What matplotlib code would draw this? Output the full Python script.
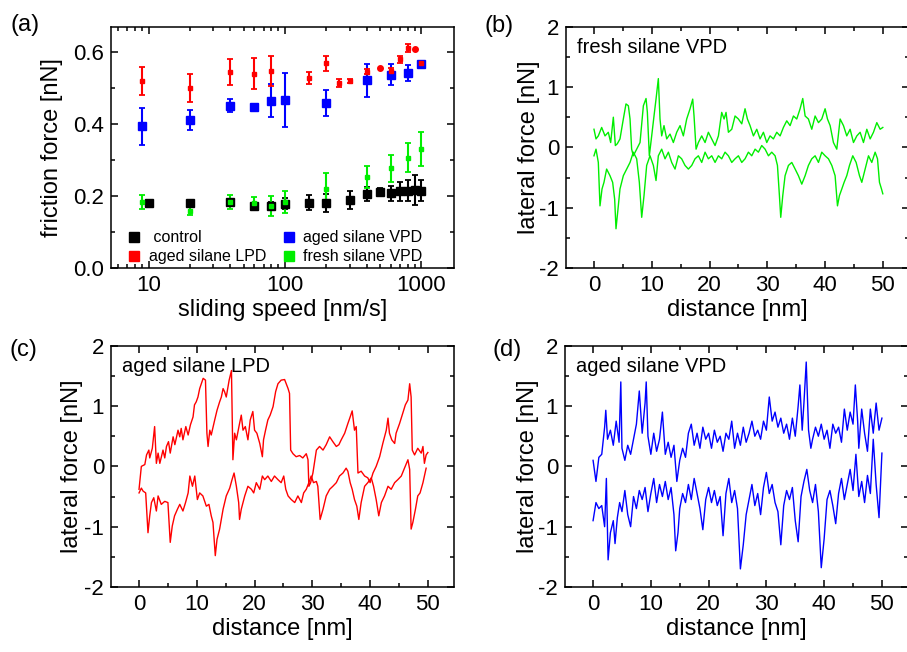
import numpy as np
import matplotlib
matplotlib.use('Agg')
import matplotlib.pyplot as plt
from matplotlib.lines import Line2D
from matplotlib.ticker import MultipleLocator, LogLocator, NullFormatter

# ---- panel (a): friction force vs sliding speed ----
speed_control = [10, 20, 40, 60, 80, 100, 150, 200, 300, 400, 500, 600, 700, 800, 900, 1000]
force_control = [0.180, 0.181, 0.182, 0.173, 0.173, 0.179, 0.181, 0.181, 0.189, 0.205, 0.211, 0.207, 0.213, 0.215, 0.216, 0.215]
err_control = [0.0, 0.0, 0.008, 0.008, 0.010, 0.015, 0.021, 0.025, 0.026, 0.020, 0.010, 0.022, 0.026, 0.029, 0.042, 0.028]

speed_fresh = [9, 20, 40, 60, 80, 100, 200, 400, 600, 800, 1000]
force_fresh = [0.184, 0.159, 0.184, 0.180, 0.173, 0.184, 0.220, 0.252, 0.277, 0.306, 0.331]
err_fresh = [0.020, 0.012, 0.020, 0.016, 0.028, 0.030, 0.045, 0.031, 0.037, 0.040, 0.047]

speed_vpd = [9, 20, 40, 60, 80, 100, 200, 400, 600, 800, 1000]
force_vpd = [0.393, 0.412, 0.450, 0.446, 0.465, 0.467, 0.458, 0.521, 0.537, 0.541, 0.566]
err_vpd = [0.051, 0.028, 0.018, 0.006, 0.046, 0.075, 0.035, 0.045, 0.029, 0.022, 0.007]

speed_lpd = [9, 20, 40, 60, 80, 150, 200, 250, 300, 400, 600, 700, 800, 1000]
force_lpd = [0.519, 0.500, 0.545, 0.540, 0.547, 0.528, 0.569, 0.515, 0.520, 0.545, 0.547, 0.579, 0.610, 0.569]
err_lpd = [0.038, 0.038, 0.036, 0.042, 0.042, 0.017, 0.021, 0.011, 0.006, 0.007, 0.007, 0.010, 0.011, 0.005]
speed_lpd_single = [500, 900]
force_lpd_single = [0.555, 0.608]

legend_labels = [' control', 'aged silane LPD', 'aged silane VPD', 'fresh silane VPD']

# ---- panel (b): fresh silane VPD friction loop (distance nm, lateral force nN) ----
fresh_fwd = [(0, 0.30), (0.35, 0.14), (0.75, 0.19), (1.33, 0.33), (1.91, 0.19), (2.48, 0.25), (2.89, 0.08),
             (3.35, 0.50), (3.7, 0.03), (4.04, 0.06), (4.5, 0.14), (5.08, 0.47), (5.54, 0.72), (5.95, 0.69),
             (6.24, 0.47), (6.52, -0.03), (6.81, -0.14), (7.39, -0.03), (7.97, 0.08), (8.55, 0.69), (9.01, 0.81),
             (9.24, 0.58), (9.58, -0.14), (9.99, 0.19), (10.39, 0.52), (10.74, 0.80), (11.14, 1.14), (11.43, 0.47),
             (11.72, 0.19), (12.12, 0.36), (12.59, 0.14), (13.16, 0.22), (13.74, 0.08), (14.32, 0.25), (14.9, 0.36),
             (15.47, 0.19), (16.05, 0.47), (16.63, 0.64), (17.09, 0.80), (17.32, 0.52), (17.67, -0.03), (18.07, 0.08),
             (18.65, 0.19), (19.23, 0.08), (19.8, 0.25), (20.38, 0.14), (20.96, 0.03), (21.54, 0.19), (22.11, 0.58),
             (22.52, 0.47), (22.86, 0.58), (23.27, 0.25), (23.85, 0.30), (24.42, 0.52), (25.0, 0.47), (25.58, 0.39),
             (26.15, 0.64), (26.56, 0.47), (27.02, 0.36), (27.6, 0.19), (28.18, 0.30), (28.75, 0.14), (29.33, 0.25),
             (29.91, 0.08), (30.48, 0.19), (31.06, 0.14), (31.64, 0.25), (32.22, 0.19), (32.79, 0.33), (33.37, 0.44),
             (33.95, 0.36), (34.53, 0.52), (35.1, 0.47), (35.68, 0.64), (36.14, 0.81), (36.55, 0.52), (37.12, 0.47),
             (37.7, 0.30), (38.28, 0.52), (38.86, 0.41), (39.43, 0.47), (40.01, 0.64), (40.42, 0.47), (40.88, 0.36),
             (41.45, 0.08), (42.03, -0.03), (42.61, 0.47), (43.19, 0.36), (43.76, 0.19), (44.34, 0.30), (44.92, 0.08),
             (45.5, 0.19), (46.07, 0.25), (46.65, 0.08), (47.23, 0.30), (47.81, 0.14), (48.38, 0.25), (48.96, 0.41),
             (49.54, 0.30), (50.0, 0.33)]
fresh_bwd = [(0, -0.14), (0.35, -0.03), (0.75, -0.25), (1.04, -0.97), (1.39, -0.69), (1.73, -0.58), (2.19, -0.36),
             (2.77, -0.47), (3.23, -0.58), (3.58, -0.86), (3.81, -1.35), (4.16, -1.02), (4.5, -0.69), (5.08, -0.47),
             (5.66, -0.36), (6.24, -0.25), (6.81, -0.08), (7.39, -0.19), (7.85, -0.58), (8.26, -1.16), (8.66, -0.80),
             (9.12, -0.30), (9.7, -0.14), (10.28, -0.30), (10.74, -0.55), (11.14, -0.14), (11.72, -0.03), (12.3, -0.19),
             (12.88, -0.08), (13.45, -0.25), (14.03, -0.36), (14.61, -0.14), (15.18, -0.19), (15.76, -0.30),
             (16.34, -0.36), (16.92, -0.30), (17.49, -0.19), (18.07, -0.14), (18.65, -0.25), (19.23, -0.08),
             (19.8, -0.19), (20.38, -0.14), (20.96, -0.25), (21.54, -0.14), (22.11, -0.19), (22.69, -0.08),
             (23.27, -0.14), (23.85, -0.25), (24.42, -0.19), (25.0, -0.14), (25.58, -0.25), (26.15, -0.19),
             (26.73, -0.08), (27.31, -0.14), (27.89, -0.03), (28.46, -0.08), (29.04, 0.03), (29.62, -0.03),
             (30.2, -0.14), (30.77, -0.08), (31.35, -0.14), (31.76, -0.30), (32.1, -0.80), (32.33, -1.16),
             (32.68, -0.80), (33.08, -0.47), (33.66, -0.30), (34.24, -0.25), (34.82, -0.36), (35.39, -0.47),
             (35.97, -0.61), (36.55, -0.47), (37.12, -0.30), (37.7, -0.19), (38.28, -0.14), (38.86, -0.25),
             (39.43, -0.08), (40.01, -0.14), (40.59, -0.19), (41.17, -0.30), (41.74, -0.47), (42.15, -0.97),
             (42.49, -0.80), (42.9, -0.69), (43.3, -0.58), (43.76, -0.47), (44.23, -0.30), (44.8, -0.14),
             (45.38, -0.25), (45.96, -0.47), (46.36, -0.58), (46.94, -0.36), (47.52, -0.14), (48.09, -0.25),
             (48.67, -0.08), (49.08, -0.19), (49.42, -0.58), (49.77, -0.69), (50.0, -0.77)]

# ---- panel (c): aged silane LPD ----
lpd_fwd = [(0, -0.38), (0.4, 0.0), (1.0, 0.03), (1.3, 0.19), (1.7, 0.27), (1.85, 0.14), (2.3, 0.30), (2.7, 0.66),
           (3.0, 0.05), (3.3, 0.22), (3.6, 0.05), (4.15, 0.27), (4.45, 0.14), (4.75, 0.33), (5.1, 0.41), (5.4, 0.22),
           (5.9, 0.49), (6.2, 0.36), (6.75, 0.60), (7.05, 0.49), (7.3, 0.63), (7.6, 0.44), (8.1, 0.66), (8.5, 0.52),
           (8.9, 0.69), (9.35, 0.82), (9.6, 1.02), (9.9, 1.07), (10.2, 1.15), (10.5, 1.29), (11.1, 1.46), (11.5, 1.43),
           (11.75, 0.55), (11.95, 0.33), (12.25, 0.60), (12.5, 0.52), (13.1, 0.77), (13.5, 0.93), (13.95, 1.07),
           (14.25, 1.15), (14.55, 1.29), (14.8, 1.24), (15.1, 1.15), (15.6, 1.43), (16.0, 1.59), (16.25, 0.11),
           (16.55, 0.55), (16.85, 0.44), (17.4, 0.71), (17.7, 0.85), (18.0, 0.60), (18.4, 0.66), (18.85, 0.44),
           (19.25, 0.77), (19.7, 0.91), (20.0, 0.60), (20.4, 0.55), (20.9, 0.38), (21.35, 0.16), (21.55, 0.44),
           (21.9, 0.60), (22.3, 0.77), (22.7, 0.85), (23.2, 0.99), (23.65, 1.24), (24.05, 1.37), (24.6, 1.43),
           (25.2, 1.44), (25.8, 1.29), (26.05, 1.21), (26.25, 0.27), (26.65, 0.21), (27.2, 0.16), (27.8, 0.18),
           (28.35, 0.14), (28.95, 0.21), (29.25, 0.11), (29.4, -0.33), (29.7, -0.27), (30.1, -0.11), (30.7, 0.27),
           (31.25, 0.33), (31.85, 0.27), (32.4, 0.36), (33.0, 0.49), (33.55, 0.41), (34.15, 0.33), (34.6, 0.36),
           (35.0, 0.44), (35.6, 0.55), (36.15, 0.71), (36.55, 0.82), (36.9, 0.92), (37.3, 0.60), (37.6, 0.66),
           (37.9, -0.11), (38.45, -0.08), (39.05, -0.16), (39.6, -0.19), (40.0, -0.27), (40.5, -0.11), (41.05, 0.0),
           (41.65, 0.16), (42.2, 0.38), (42.8, 0.60), (43.1, 0.80), (43.35, 0.55), (43.75, 0.44), (44.25, 0.38),
           (44.5, 0.55), (45.1, 0.71), (45.65, 0.88), (46.1, 1.02), (46.55, 1.10), (46.85, 1.37), (47.1, 1.15),
           (47.3, 0.27), (47.7, 0.19), (48.25, 0.30), (48.85, 0.22), (49.15, 0.33), (49.4, 0.05), (49.7, 0.19),
           (50.0, 0.23)]
lpd_bwd = [(0, -0.44), (0.4, -0.36), (0.7, -0.41), (1.15, -0.44), (1.55, -1.10), (1.85, -0.82), (2.15, -0.60),
           (2.55, -0.52), (3.0, -0.74), (3.3, -0.49), (3.85, -0.63), (4.45, -0.58), (5.0, -0.60), (5.4, -1.26),
           (5.75, -0.99), (6.15, -0.82), (6.65, -0.71), (7.05, -0.63), (7.6, -0.74), (8.05, -0.60), (8.5, -0.44),
           (8.8, -0.16), (9.25, -0.33), (9.65, -0.16), (10.1, -0.55), (10.5, -0.44), (11.05, -0.49), (11.65, -0.66),
           (12.1, -0.63), (12.5, -0.82), (12.8, -0.93), (13.2, -1.48), (13.5, -1.21), (13.95, -1.04), (14.55, -0.71),
           (15.1, -0.49), (15.7, -0.36), (16.1, -0.22), (16.45, -0.11), (16.85, -0.33), (17.25, -0.60),
           (17.4, -0.88), (17.7, -0.71), (18.3, -0.49), (18.85, -0.33), (19.45, -0.38), (19.85, -0.44),
           (20.3, -0.27), (20.9, -0.38), (21.35, -0.16), (21.75, -0.22), (22.3, -0.16), (22.9, -0.25), (23.45, -0.16),
           (24.05, -0.22), (24.6, -0.27), (25.05, -0.16), (25.4, -0.38), (25.8, -0.49), (26.35, -0.55),
           (26.95, -0.60), (27.5, -0.49), (28.1, -0.60), (28.5, -0.44), (28.95, -0.38), (29.4, -0.27), (29.8, -0.16),
           (30.2, -0.27), (30.7, -0.25), (30.95, -0.33), (31.35, -0.88), (31.85, -0.71), (32.4, -0.49),
           (33.0, -0.38), (33.55, -0.33), (34.15, -0.27), (34.7, -0.16), (35.3, -0.11), (35.85, -0.03),
           (36.15, -0.08), (36.55, -0.27), (36.9, -0.38), (37.3, -0.55), (37.7, -0.66), (38.05, -0.88),
           (38.45, -0.60), (39.05, -0.33), (39.6, -0.27), (40.2, -0.19), (40.6, -0.33), (41.05, -0.55),
           (41.5, -0.82), (41.95, -0.60), (42.5, -0.49), (43.1, -0.33), (43.65, -0.38), (44.25, -0.27),
           (44.8, -0.22), (45.4, -0.16), (45.95, -0.03), (46.55, 0.11), (46.85, -0.05), (47.1, -1.04),
           (47.4, -0.93), (47.85, -0.71), (48.25, -0.49), (48.65, -0.44), (49.15, -0.27), (49.4, -0.16),
           (49.7, -0.03)]

# ---- panel (d): aged silane VPD ----
vpd_fwd = [(0, 0.10), (0.5, -0.25), (1, 0.15), (1.5, 0.20), (2, 0.65), (2.2, 0.93), (2.5, 0.45), (3, 0.60),
           (3.5, 0.35), (4, 0.75), (4.5, 0.40), (4.8, 1.40), (5, 0.30), (5.5, 0.10), (6, 0.35), (6.5, 0.20),
           (7, 0.45), (7.5, 0.70), (8, 1.25), (8.5, 0.55), (9, 1.05), (9.2, 1.40), (9.5, 0.50), (10, 0.20),
           (10.5, 0.55), (11, 0.25), (11.5, 0.45), (12, 0.90), (12.5, 0.20), (13, 0.40), (13.5, 0.15), (14, 0.35),
           (14.5, -0.25), (15, 0.10), (15.5, 0.30), (16, 0.15), (16.5, 0.55), (17, 0.70), (17.5, 0.35), (18, 0.55),
           (18.5, 0.30), (19, 0.65), (19.5, 0.45), (20, 0.55), (20.5, 0.30), (21, 0.60), (21.5, 0.40), (22, 0.50),
           (22.5, 0.25), (23, 0.55), (23.5, 0.45), (24, 0.75), (24.5, 0.30), (25, 0.55), (25.5, 0.35), (26, 0.65),
           (26.5, 0.40), (27, 0.55), (27.5, 0.75), (28, 0.50), (28.5, 0.60), (29, 0.45), (29.5, 0.75), (30, 0.60),
           (30.5, 1.15), (31, 0.75), (31.5, 0.90), (32, 0.65), (32.5, 0.80), (33, 0.55), (33.5, 0.70), (34, 0.45),
           (34.5, 0.80), (35, 0.50), (35.5, 1.00), (35.8, 1.35), (36.2, 0.60), (36.5, 1.05), (36.9, 1.73),
           (37.3, 0.60), (37.7, 0.30), (38, 0.45), (38.5, 0.65), (39, 0.50), (39.5, 0.70), (40, 0.45), (40.5, 0.60),
           (41, 0.30), (41.5, 0.70), (42, 0.55), (42.5, 0.65), (43, 0.40), (43.5, 0.95), (44, 0.60), (44.5, 0.90),
           (45, 0.70), (45.4, 1.35), (45.8, 0.75), (46, 0.30), (46.5, 0.95), (47, 0.55), (47.5, 0.25), (48, 0.95),
           (48.5, 0.55), (49, 1.05), (49.5, 0.60), (50, 0.80)]
vpd_bwd = [(0, -0.90), (0.5, -0.60), (1.0, -0.70), (1.5, -0.65), (2.0, -1.00), (2.3, -0.20), (2.6, -1.55),
           (3.0, -1.10), (3.5, -0.90), (3.8, -1.28), (4.2, -0.85), (4.6, -0.60), (5.0, -0.75), (5.5, -0.40),
           (6.0, -0.80), (6.5, -1.00), (7.0, -0.50), (7.5, -0.70), (8.0, -0.40), (8.5, -0.55), (9.0, -0.35),
           (9.5, -0.75), (10.0, -0.45), (10.5, -0.20), (11.0, -0.60), (11.5, -0.30), (12.0, -0.50), (12.5, -0.25),
           (13.0, -0.55), (13.5, -0.35), (14.0, -0.80), (14.3, -1.40), (14.7, -1.10), (15.0, -0.70), (15.5, -0.45),
           (16.0, -0.60), (16.5, -0.30), (17.0, -0.55), (17.5, -0.20), (18.0, -0.45), (18.5, -0.70), (19.0, -1.05),
           (19.5, -0.55), (20.0, -0.35), (20.5, -0.60), (21.0, -0.40), (21.5, -0.65), (22.0, -0.50), (22.5, -1.15),
           (23.0, -0.45), (23.5, -0.20), (24.0, -0.60), (24.5, -0.40), (25.0, -0.70), (25.5, -1.70), (26.0, -1.30),
           (26.5, -0.80), (27.0, -0.55), (27.5, -0.30), (28.0, -0.65), (28.5, -0.45), (29.0, -0.80), (29.5, -0.35),
           (30.0, -0.10), (30.5, -0.45), (31.0, -0.30), (31.5, -0.60), (32.0, -0.75), (32.5, -1.30), (33.0, -0.65),
           (33.5, -0.40), (34.0, -0.55), (34.5, -0.35), (35.0, -0.90), (35.5, -1.25), (36.0, -0.50), (36.5, -0.25),
           (37.0, -0.05), (37.5, -0.40), (38.0, -0.60), (38.5, -0.30), (39.0, -0.75), (39.5, -1.68), (40.0, -1.20),
           (40.5, -0.55), (41.0, -0.40), (41.5, -0.65), (42.0, -0.95), (42.5, -0.45), (43.0, -0.20), (43.5, -0.55),
           (44.0, -0.30), (44.5, -0.05), (45.0, -0.40), (45.5, 0.20), (46.0, -0.50), (46.5, -0.25), (47.0, -0.60),
           (47.5, -0.15), (48.0, -0.45), (48.5, 0.45), (49.0, -0.30), (49.5, -0.85), (50.0, 0.22)]

RED = '#ff0000'
BLUE = '#0000ff'
GREEN = '#00ee00'
BLACK = '#000000'

plt.rcParams['font.family'] = ['Liberation Sans', 'DejaVu Sans']
plt.rcParams['axes.unicode_minus'] = False
plt.rcParams['axes.linewidth'] = 1.1

fig = plt.figure(figsize=(9.07, 6.52), dpi=100)

ax_a = fig.add_axes([0.1224, 0.589, 0.378, 0.370])
ax_b = fig.add_axes([0.624, 0.589, 0.378, 0.370])
ax_c = fig.add_axes([0.1224, 0.0997, 0.378, 0.370])
ax_d = fig.add_axes([0.623, 0.0997, 0.378, 0.370])


def style_ticks(ax):
    ax.tick_params(which='both', direction='in', top=True, right=True, labelsize=16, width=1.1)
    ax.tick_params(which='major', length=5, pad=5)
    ax.tick_params(which='minor', length=3)


# panel (a)
eb = dict(capsize=2.2, elinewidth=1.5, capthick=1.3, linestyle='none')
ax_a.errorbar(speed_control, force_control, yerr=err_control, fmt='s', color=BLACK, ms=6, **eb)
ax_a.errorbar(speed_fresh, force_fresh, yerr=err_fresh, fmt='s', color=GREEN, ms=3.5, **eb)
ax_a.errorbar(speed_vpd, force_vpd, yerr=err_vpd, fmt='s', color=BLUE, ms=6, **eb)
ax_a.errorbar(speed_lpd, force_lpd, yerr=err_lpd, fmt='s', color=RED, ms=3.5, **eb)
ax_a.plot(speed_lpd_single, force_lpd_single, 'o', color=RED, ms=4, linestyle='none')
ax_a.set_xscale('log')
ax_a.set_xlim(5.3, 1750)
ax_a.set_ylim(0, 0.67)
ax_a.yaxis.set_major_locator(MultipleLocator(0.2))
ax_a.yaxis.set_minor_locator(MultipleLocator(0.1))
ax_a.yaxis.set_major_formatter(plt.FormatStrFormatter('%.1f'))
ax_a.xaxis.set_major_locator(LogLocator(base=10))
ax_a.xaxis.set_minor_locator(LogLocator(base=10, subs=np.arange(2, 10)))
ax_a.xaxis.set_minor_formatter(NullFormatter())
ax_a.xaxis.set_major_formatter(plt.FuncFormatter(lambda v, p: '%d' % v))
style_ticks(ax_a)
ax_a.set_xlabel('sliding speed [nm/s]', fontsize=17)
ax_a.set_ylabel('friction force [nN]', fontsize=17)
ax_a.xaxis.set_label_coords(0.5, -0.13)
ax_a.yaxis.set_label_coords(-0.14, 0.5)

handles = [Line2D([], [], marker='s', linestyle='none', color=c, ms=7)
           for c in [BLACK, RED, BLUE, GREEN]]
ax_a.legend(handles, legend_labels, loc='lower left', bbox_to_anchor=(0.045, 0.015), ncol=2,
            frameon=False, fontsize=11.5, handlelength=1.0, handletextpad=0.4, columnspacing=0.9,
            labelspacing=0.25, borderpad=0, borderaxespad=0)

# trace panels
panels = [(ax_b, fresh_fwd, fresh_bwd, GREEN, 'fresh silane VPD'),
          (ax_c, lpd_fwd, lpd_bwd, RED, 'aged silane LPD'),
          (ax_d, vpd_fwd, vpd_bwd, BLUE, 'aged silane VPD')]
for ax, fwd, bwd, col, name in panels:
    fx, fy = np.array(fwd).T
    bx, by = np.array(bwd).T
    ax.plot(fx, fy, color=col, lw=1.0)
    ax.plot(bx, by, color=col, lw=1.0)
    ax.set_xlim(-4.85, 54.5)
    ax.set_ylim(-2, 2)
    ax.xaxis.set_major_locator(MultipleLocator(10))
    ax.xaxis.set_minor_locator(MultipleLocator(5))
    ax.yaxis.set_major_locator(MultipleLocator(1))
    ax.yaxis.set_minor_locator(MultipleLocator(0.5))
    style_ticks(ax)
    ax.set_xlabel('distance [nm]', fontsize=17)
    ax.set_ylabel('lateral force [nN]', fontsize=17)
    ax.xaxis.set_label_coords(0.5, -0.13)
    ax.text(0.032, 0.915, name, transform=ax.transAxes, fontsize=14.5, va='center', ha='left')

ax_b.yaxis.set_label_coords(-0.075, 0.5)
ax_d.yaxis.set_label_coords(-0.075, 0.5)
ax_c.yaxis.set_label_coords(-0.082, 0.5)

fig.text(0.0276, 0.962, '(a)', fontsize=17, ha='center', va='center')
fig.text(0.550, 0.960, '(b)', fontsize=17, ha='center', va='center')
fig.text(0.026, 0.463, '(c)', fontsize=17, ha='center', va='center')
fig.text(0.559, 0.463, '(d)', fontsize=17, ha='center', va='center')

fig.savefig('out.png', dpi=100)
